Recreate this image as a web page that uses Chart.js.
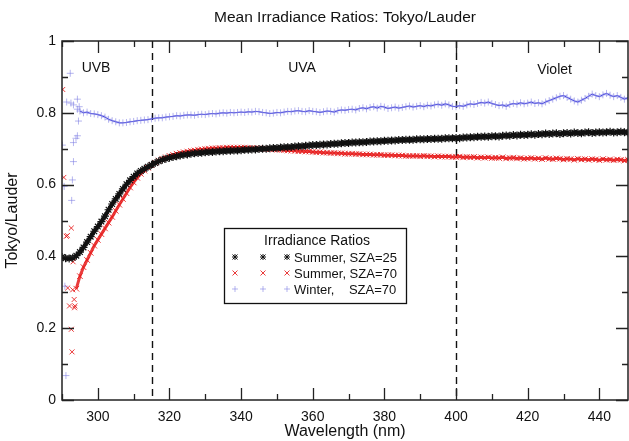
<!DOCTYPE html>
<html lang="en">
<head>
<meta charset="UTF-8">
<title>Mean Irradiance Ratios: Tokyo/Lauder</title>
<style>
  body { margin: 0; background: #fff; }
  .wrap { width: 629px; height: 441px; position: relative; }
</style>
<script src="https://cdn.jsdelivr.net/npm/chart.js"></script>
</head>
<body>
<div class="wrap"><canvas id="chart" width="629" height="441"></canvas></div>
<script>
// wavelength grid, nm
const wavelength = [
  290,291,292,293,294,295,296,297,298,299,
  300,301,302,303,304,305,306,307,308,309,
  310,311,312,313,314,315,316,317,318,319,
  320,321,322,323,324,325,326,327,328,329,
  330,331,332,333,334,335,336,337,338,339,
  340,341,342,343,344,345,346,347,348,349,
  350,351,352,353,354,355,356,357,358,359,
  360,361,362,363,364,365,366,367,368,369,
  370,371,372,373,374,375,376,377,378,379,
  380,381,382,383,384,385,386,387,388,389,
  390,391,392,393,394,395,396,397,398,399,
  400,401,402,403,404,405,406,407,408,409,
  410,411,412,413,414,415,416,417,418,419,
  420,421,422,423,424,425,426,427,428,429,
  430,431,432,433,434,435,436,437,438,439,
  440,441,442,443,444,445,446,447,448
];

// Summer, SZA=25
const summer25 = [
  0.398,0.395,0.394,0.396,0.402,0.412,0.425,0.44,0.455,0.47,
  0.483,0.497,0.512,0.53,0.546,0.56,0.574,0.588,0.601,0.612,
  0.622,0.631,0.638,0.644,0.65,0.655,0.66,0.665,0.669,0.672,
  0.675,0.677,0.679,0.681,0.683,0.684,0.686,0.687,0.688,0.689,
  0.69,0.691,0.691,0.692,0.693,0.693,0.694,0.694,0.695,0.695,
  0.696,0.697,0.697,0.698,0.698,0.699,0.70,0.70,0.701,0.702,
  0.702,0.703,0.704,0.704,0.705,0.706,0.707,0.707,0.708,0.709,
  0.71,0.71,0.711,0.712,0.712,0.713,0.714,0.714,0.715,0.716,
  0.716,0.717,0.717,0.718,0.718,0.719,0.72,0.72,0.721,0.721,
  0.722,0.722,0.723,0.723,0.724,0.724,0.725,0.725,0.725,0.726,
  0.726,0.726,0.727,0.727,0.728,0.728,0.728,0.729,0.729,0.729,
  0.73,0.729,0.731,0.731,0.732,0.732,0.733,0.733,0.734,0.733,
  0.735,0.735,0.734,0.736,0.737,0.736,0.738,0.737,0.739,0.738,
  0.739,0.74,0.739,0.741,0.74,0.742,0.741,0.742,0.743,0.741,
  0.743,0.744,0.742,0.745,0.744,0.743,0.745,0.746,0.744,0.745,
  0.746,0.745,0.746,0.747,0.745,0.746,0.747,0.746,0.745
];

// Summer, SZA=70
const summer70 = [
  null,null,null,null,0.31,0.345,0.37,0.39,0.41,0.43,
  0.446,0.462,0.478,0.494,0.51,0.527,0.544,0.56,0.576,0.592,
  0.606,0.619,0.63,0.639,0.647,0.654,0.661,0.667,0.672,0.676,
  0.68,0.683,0.686,0.688,0.69,0.692,0.694,0.695,0.697,0.698,
  0.699,0.70,0.701,0.701,0.702,0.702,0.703,0.703,0.703,0.703,
  0.703,0.703,0.702,0.702,0.701,0.701,0.70,0.699,0.699,0.698,
  0.697,0.697,0.696,0.695,0.695,0.694,0.693,0.693,0.692,0.692,
  0.691,0.69,0.69,0.689,0.689,0.688,0.688,0.687,0.687,0.686,
  0.686,0.686,0.685,0.685,0.684,0.684,0.684,0.683,0.683,0.683,
  0.682,0.682,0.682,0.681,0.681,0.681,0.68,0.68,0.68,0.68,
  0.679,0.68,0.679,0.679,0.678,0.679,0.678,0.678,0.678,0.677,
  0.677,0.678,0.676,0.677,0.676,0.677,0.675,0.676,0.675,0.676,
  0.674,0.675,0.674,0.676,0.673,0.674,0.675,0.673,0.674,0.672,
  0.673,0.674,0.672,0.673,0.671,0.674,0.672,0.671,0.673,0.672,
  0.67,0.672,0.671,0.669,0.672,0.67,0.671,0.669,0.671,0.67,
  0.668,0.671,0.669,0.67,0.668,0.67,0.669,0.667,0.669
];

// Winter, SZA=70
const winter70 = [
  null,null,null,null,null,0.805,0.80,0.802,0.798,0.797,
  0.795,0.792,0.788,0.782,0.778,0.775,0.772,0.772,0.773,0.775,
  0.776,0.778,0.779,0.78,0.781,0.783,0.785,0.786,0.786,0.788,
  0.789,0.79,0.792,0.791,0.793,0.794,0.794,0.793,0.795,0.796,
  0.795,0.797,0.798,0.797,0.799,0.80,0.799,0.801,0.80,0.801,
  0.802,0.801,0.803,0.802,0.804,0.803,0.801,0.80,0.798,0.799,
  0.801,0.80,0.802,0.804,0.803,0.805,0.806,0.804,0.803,0.806,
  0.804,0.803,0.801,0.803,0.805,0.804,0.802,0.806,0.808,0.807,
  0.809,0.81,0.808,0.812,0.814,0.811,0.815,0.817,0.813,0.818,
  0.816,0.812,0.814,0.816,0.813,0.815,0.817,0.819,0.816,0.818,
  0.82,0.817,0.821,0.819,0.822,0.824,0.821,0.825,0.822,0.818,
  0.817,0.82,0.818,0.822,0.825,0.823,0.826,0.829,0.827,0.83,
  0.826,0.823,0.82,0.822,0.818,0.823,0.826,0.824,0.828,0.825,
  0.827,0.83,0.826,0.828,0.825,0.83,0.834,0.838,0.842,0.846,
  0.848,0.843,0.838,0.833,0.83,0.835,0.84,0.846,0.852,0.848,
  0.845,0.85,0.854,0.849,0.845,0.848,0.843,0.838,0.842
];

// noisy short-wave points (below ~295 nm)
const summer70EdgeX = [290.2,290.5,291.2,291.5,291.6,292.1,292.6,292.6,292.8,293.0,293.1,293.4,293.5,293.6];
const summer70EdgeY = [0.865,0.62,0.456,0.458,0.312,0.262,0.479,0.197,0.134,0.307,0.385,0.28,0.257,0.262];
const winter70EdgeX = [290.1,290.6,290.8,291.1,291.3,292.3,292.5,292.7,292.9,293.2,293.2,293.2,293.9,294.3,294.3,294.8,294.3,294.6];
const winter70EdgeY = [0.71,0.595,0.317,0.068,0.83,0.91,0.827,0.556,0.613,0.822,0.717,0.664,0.729,0.736,0.838,0.817,0.81,0.777];

const xTicks = [300,320,340,360,380,400,420,440];
const regionLines = [315, 400];
const regions = [
  { text: 'UVB', x: 299.5, y: 0.925 },
  { text: 'UVA', x: 357, y: 0.925 },
  { text: 'Violet', x: 427.5, y: 0.92 }
];

const FONT = '"Liberation Sans", Arial, sans-serif';
Chart.defaults.font.family = FONT;
Chart.defaults.color = '#111';

const BLACK = '#111111';
const RED = 'rgba(230,25,25,0.85)';
const BLUE_MARK = 'rgba(120,120,225,0.55)';
const BLUE_LINE = '#3333dd';

function pts(xs, ys) {
  return xs.map((x, i) => ({ x: x, y: ys[i] }));
}

// small legend glyphs
function marker(ctx, style, color, mx, my) {
  ctx.strokeStyle = color;
  ctx.lineWidth = 1;
  ctx.beginPath();
  if (style !== 'crossRot') {
    ctx.moveTo(mx - 3, my); ctx.lineTo(mx + 3, my);
    ctx.moveTo(mx, my - 3); ctx.lineTo(mx, my + 3);
  }
  if (style !== 'cross') {
    ctx.moveTo(mx - 2.5, my - 2.5); ctx.lineTo(mx + 2.5, my + 2.5);
    ctx.moveTo(mx - 2.5, my + 2.5); ctx.lineTo(mx + 2.5, my - 2.5);
  }
  ctx.stroke();
}

// frame, inward ticks, region lines/labels, title and boxed legend
const decor = {
  id: 'decor',
  beforeDatasetsDraw(chart) {
    const { ctx, chartArea: a, scales: { x } } = chart;
    ctx.save();
    ctx.strokeStyle = '#111';
    ctx.lineWidth = 1.4;
    ctx.setLineDash([7, 5]);
    regionLines.forEach(v => {
      const px = Math.round(x.getPixelForValue(v)) + 0.5;
      ctx.beginPath();
      ctx.moveTo(px, a.top);
      ctx.lineTo(px, a.bottom);
      ctx.stroke();
    });
    ctx.restore();
  },
  afterDraw(chart) {
    const { ctx, chartArea: a, scales: { x, y } } = chart;
    ctx.save();
    ctx.strokeStyle = '#222';
    ctx.lineWidth = 1.5;
    ctx.strokeRect(a.left, a.top, a.right - a.left, a.bottom - a.top);

    ctx.lineWidth = 1.3;
    ctx.beginPath();
    for (let v = 290; v <= 448; v += 10) {
      const len = v % 20 === 0 ? 12 : 6;
      const px = Math.round(x.getPixelForValue(v)) + 0.5;
      ctx.moveTo(px, a.bottom); ctx.lineTo(px, a.bottom - len);
      ctx.moveTo(px, a.top); ctx.lineTo(px, a.top + len);
    }
    for (let k = 0; k <= 10; k++) {
      const len = k % 2 === 0 ? 12 : 6;
      const py = Math.round(y.getPixelForValue(k / 10)) + 0.5;
      ctx.moveTo(a.left, py); ctx.lineTo(a.left + len, py);
      ctx.moveTo(a.right, py); ctx.lineTo(a.right - len, py);
    }
    ctx.stroke();

    // title
    ctx.fillStyle = '#111';
    ctx.textAlign = 'center';
    ctx.textBaseline = 'middle';
    ctx.font = '15.5px ' + FONT;
    ctx.fillText('Mean Irradiance Ratios: Tokyo/Lauder', (a.left + a.right) / 2, 18);

    // region names
    ctx.font = '14px ' + FONT;
    regions.forEach(r => {
      ctx.fillText(r.text, x.getPixelForValue(r.x), y.getPixelForValue(r.y));
    });

    // legend box
    const bx = 224, by = 228, bw = 182, bh = 75;
    ctx.fillStyle = '#fff';
    ctx.fillRect(bx, by, bw, bh);
    ctx.strokeStyle = '#111';
    ctx.lineWidth = 1.3;
    ctx.strokeRect(bx + 0.5, by + 0.5, bw, bh);
    ctx.fillStyle = '#111';
    ctx.font = '14px ' + FONT;
    ctx.fillText('Irradiance Ratios', 317, 241);

    const rows = [
      { text: 'Summer, SZA=25', style: 'star', color: BLACK },
      { text: 'Summer, SZA=70', style: 'crossRot', color: RED },
      { text: 'Winter,    SZA=70', style: 'cross', color: BLUE_MARK }
    ];
    ctx.font = '13px ' + FONT;
    ctx.textAlign = 'left';
    rows.forEach((r, i) => {
      const ry = 257 + i * 16;
      [235, 263, 287].forEach(mx => marker(ctx, r.style, r.color, mx, ry));
      ctx.fillStyle = '#111';
      ctx.fillText(r.text, 294, ry + 1);
    });
    ctx.restore();
  }
};

new Chart(document.getElementById('chart'), {
  type: 'scatter',
  data: {
    datasets: [
      {
        label: 'Winter, SZA=70',
        data: pts(wavelength, winter70),
        showLine: true, borderColor: BLUE_LINE, borderWidth: 1,
        pointStyle: 'cross', pointRadius: 3.5, pointBorderWidth: 1,
        pointBorderColor: BLUE_MARK, pointBackgroundColor: BLUE_MARK
      },
      {
        label: 'Winter edge',
        data: pts(winter70EdgeX, winter70EdgeY),
        showLine: false,
        pointStyle: 'cross', pointRadius: 3.5, pointBorderWidth: 1,
        pointBorderColor: BLUE_MARK, pointBackgroundColor: BLUE_MARK
      },
      {
        label: 'Summer, SZA=25',
        data: pts(wavelength, summer25),
        showLine: true, borderColor: BLACK, borderWidth: 4,
        pointStyle: 'star', pointRadius: 4, pointBorderWidth: 1.2,
        pointBorderColor: BLACK, pointBackgroundColor: BLACK
      },
      {
        label: 'Summer, SZA=70',
        data: pts(wavelength, summer70),
        showLine: true, borderColor: RED, borderWidth: 3,
        pointStyle: 'crossRot', pointRadius: 4, pointBorderWidth: 1,
        pointBorderColor: RED, pointBackgroundColor: RED
      },
      {
        label: 'Summer edge',
        data: pts(summer70EdgeX, summer70EdgeY),
        showLine: false,
        pointStyle: 'crossRot', pointRadius: 3.5, pointBorderWidth: 1,
        pointBorderColor: RED, pointBackgroundColor: RED
      }
    ]
  },
  options: {
    responsive: false,
    animation: false,
    layout: { autoPadding: false, padding: { top: 41, right: 1, left: 0, bottom: 0 } },
    plugins: {
      legend: { display: false },
      tooltip: { enabled: false }
    },
    scales: {
      x: {
        type: 'linear', min: 290, max: 448,
        grid: { display: false, drawTicks: false },
        border: { display: false },
        afterBuildTicks: s => { s.ticks = xTicks.map(v => ({ value: v })); },
        afterFit: s => { s.height = 41; s.paddingLeft = 0; s.paddingRight = 0; },
        ticks: { font: { size: 14 }, padding: 9, maxRotation: 0, autoSkip: false },
        title: { display: true, text: 'Wavelength (nm)', font: { size: 16 }, padding: 0 }
      },
      y: {
        min: 0, max: 1,
        grid: { display: false, drawTicks: false },
        border: { display: false },
        afterFit: s => { s.width = 62; s.paddingTop = 0; s.paddingBottom = 0; },
        ticks: { stepSize: 0.2, font: { size: 14 }, padding: 6, callback: v => String(+v.toFixed(1)) },
        title: { display: true, text: 'Tokyo/Lauder', font: { size: 16 }, padding: { top: 3, bottom: 0 } }
      }
    }
  },
  plugins: [decor]
});
</script>
</body>
</html>
